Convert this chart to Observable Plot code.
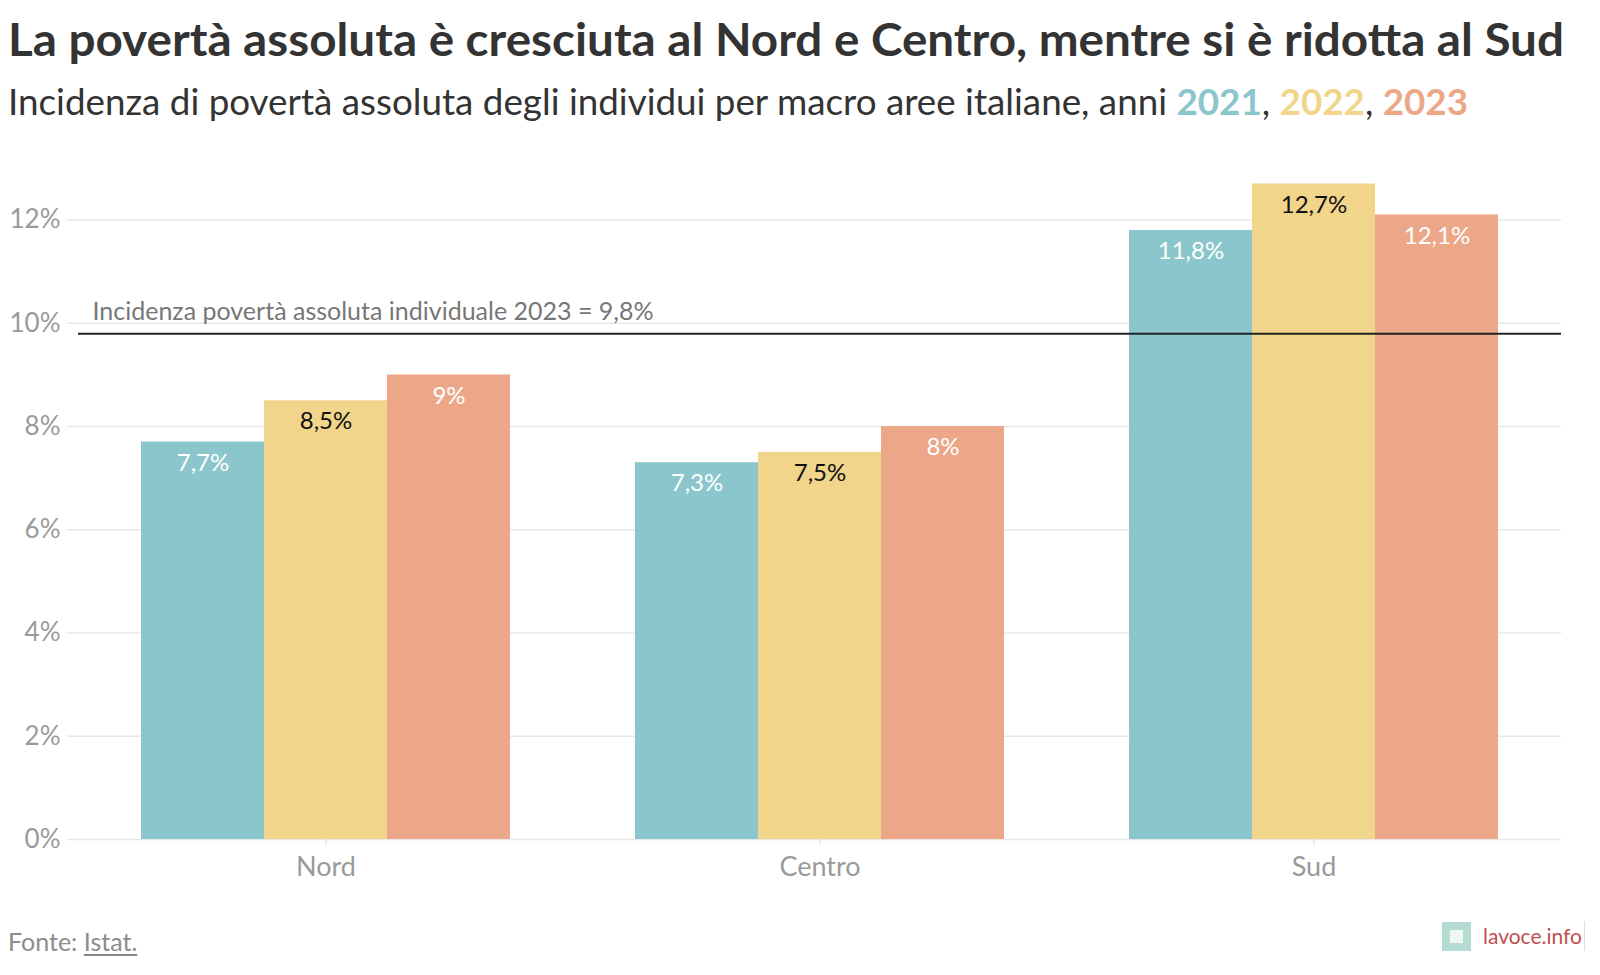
<!DOCTYPE html>
<html>
<head>
<meta charset="utf-8">
<script src="https://cdn.jsdelivr.net/npm/d3@7"></script>
<script src="https://cdn.jsdelivr.net/npm/@observablehq/plot@0.6"></script>
<style>
  html, body { margin: 0; padding: 0; background: #fff; }
  body { width: 1600px; height: 975px; position: relative; overflow: hidden; font-family: Lato, "Noto Sans", sans-serif; }
  .abs { position: absolute; white-space: nowrap; transform-origin: 0 50%; }
  #title { left: 8px; top: 11px; font-size: 46px; line-height: 1.2; font-weight: 700; color: #333; }
  #subtitle { left: 8px; top: 79px; font-size: 37px; line-height: 1.2; font-weight: 400; color: #333; }
  #subtitle b { font-weight: 700; }
  .layer { position: absolute; left: 0; top: 140px; }
  #source { left: 8px; top: 926px; font-size: 25px; line-height: 1.2; color: #8c8c8c; }
  #source u { text-decoration-thickness: 1.5px; text-underline-offset: 3px; }
  #logo { position: absolute; left: 1442px; top: 921px; height: 30px; display: flex; align-items: center; }
  #logo .sq { width: 29px; height: 29px; background: #b5dcd2; position: relative; }
  #logo .sq::after { content: ""; position: absolute; left: 8px; top: 8px; width: 13px; height: 13px; background: #eef7f4; }
  #logo .txt { margin-left: 12px; font-size: 21px; color: #c0504f; padding-right: 2px; border-right: 1.5px solid #ddd; line-height: 30px; }
</style>
</head>
<body>
<div id="title" class="abs">La povertà assoluta è cresciuta al Nord e Centro, mentre si è ridotta al Sud</div>
<div id="subtitle" class="abs"></div>
<div id="back" class="layer"></div>
<div id="front" class="layer"></div>
<div id="source" class="abs">Fonte: <u>Istat.</u></div>
<div id="logo"><div class="sq"></div><div class="txt">lavoce.info</div></div>
<script>
// ---- data ----
const areas = ["Nord", "Centro", "Sud"];
const years = ["2021", "2022", "2023"];
const colors = ["#8bc6cc", "#f0d58b", "#eba788"];
const values2021 = [7.7, 7.3, 11.8];
const values2022 = [8.5, 7.5, 12.7];
const values2023 = [9.0, 8.0, 12.1];
const yTicks = [0, 2, 4, 6, 8, 10, 12];
const refValue = 9.8;
const refLabel = "Incidenza povertà assoluta individuale 2023 = 9,8%";

const series = [values2021, values2022, values2023];
const data = [];
areas.forEach((a, i) => years.forEach((y, j) => data.push({area: a, year: y, value: series[j][i]})));
const fmt = v => String(v).replace(".", ",") + "%";

// subtitle with colored years
const sub = document.getElementById("subtitle");
sub.innerHTML = "Incidenza di povertà assoluta degli individui per macro aree italiane, anni " +
  years.map((y, i) => `<b style="color:${colors[i]}">${y}</b>`).join(", ");

const common = {
  width: 1600,
  height: 760,
  marginLeft: 67,
  marginRight: 39,
  marginTop: 28,
  marginBottom: 61,
  y: {domain: [0, 13], axis: null}
};
const font = "Lato, 'Noto Sans', sans-serif";

// background layer: grid, y labels
const back = Plot.plot({
  ...common,
  style: {fontFamily: font, background: "#fff"},
  marks: [
    Plot.ruleY(yTicks, {stroke: "#e8e8e8", strokeWidth: 1.5}),
    Plot.text(yTicks, {y: d => d, text: d => d + "%", frameAnchor: "left", textAnchor: "end", dx: -7, fill: "#9a9a9a", fontSize: 26})
  ]
});
document.getElementById("back").appendChild(back);

// front layer: grouped bars (faceted by area)
const front = Plot.plot({
  ...common,
  style: {fontFamily: font, background: "transparent", overflow: "visible"},
  fx: {domain: areas, paddingInner: 0.25, paddingOuter: 0.1355, align: 0.54, label: null, axis: null},
  x: {domain: years, padding: 0, axis: null},
  color: {domain: years, range: colors},
  marks: [
    Plot.barY(data, {fx: "area", x: "year", y: "value", fill: "year"}),
    Plot.text(data.filter(d => d.year !== "2022"), {fx: "area", x: "year", y: "value", text: d => fmt(d.value), dy: 21, fill: "#fff", fontSize: 24}),
    Plot.text(data.filter(d => d.year === "2022"), {fx: "area", x: "year", y: "value", text: d => fmt(d.value), dy: 21, fill: "#111", fontSize: 24}),
    Plot.axisFx({anchor: "bottom", tickSize: 6, tickPadding: 11, stroke: "#dddddd", fill: "#9a9a9a", fontSize: 27, label: null})
  ]
});
document.getElementById("front").appendChild(front);

// top layer: reference line and its label
const ref = Plot.plot({
  ...common,
  style: {fontFamily: font, background: "transparent"},
  marks: [
    Plot.ruleY([refValue], {stroke: "#222", strokeWidth: 2, insetLeft: 11}),
    Plot.text([refLabel], {y: () => refValue, text: d => d, frameAnchor: "left", textAnchor: "start", dx: 25, dy: -22, fill: "#777", fontSize: 25})
  ]
});
const refDiv = document.createElement("div");
refDiv.className = "layer";
refDiv.appendChild(ref);
document.body.appendChild(refDiv);

// fit header widths
function fit(id, target) {
  const el = document.getElementById(id);
  const w = el.getBoundingClientRect().width;
  if (w > 0) el.style.transform = `scaleX(${target / w})`;
}
fit("title", 1556);
fit("subtitle", 1460);
</script>
</body>
</html>
